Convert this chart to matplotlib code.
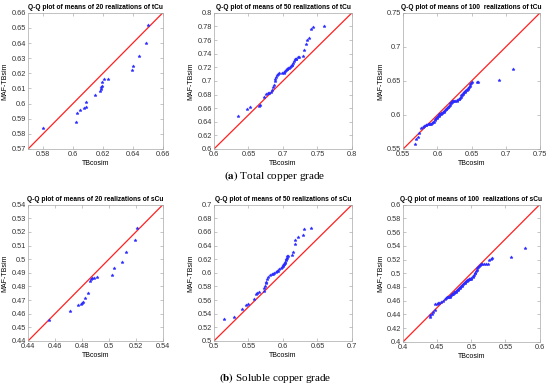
import matplotlib
matplotlib.use("Agg")
import matplotlib.pyplot as plt
from matplotlib.ticker import FuncFormatter

plt.rcParams.update({
    "font.family": ["Liberation Sans", "DejaVu Sans"],
    "font.size": 5.3,
    "mathtext.fontset": "stix",
    "xtick.direction": "in",
    "ytick.direction": "in",
    "xtick.major.size": 2,
    "ytick.major.size": 2,
    "xtick.major.width": 0.4,
    "ytick.major.width": 0.4,
    "xtick.top": True,
    "ytick.right": True,
    "xtick.color": "#9a9a9a",
    "ytick.color": "#9a9a9a",
    "xtick.labelcolor": "#333333",
    "ytick.labelcolor": "#333333",
    "axes.edgecolor": "#a8a8a8",
    "axes.linewidth": 0.5,
})

# ---- (a) total copper grade ----
t20_x = [0.580, 0.6018, 0.6029, 0.6044, 0.6073, 0.6084, 0.6089, 0.6144, 0.6178, 0.6184,
         0.6189, 0.6193, 0.6196, 0.6207, 0.6233, 0.6396, 0.6404, 0.6444, 0.6489, 0.6500]
t20_y = [0.5836, 0.5876, 0.5940, 0.5957, 0.5971, 0.5979, 0.6010, 0.6060, 0.6085, 0.6094,
         0.6107, 0.6116, 0.6142, 0.6160, 0.6162, 0.6222, 0.6248, 0.6316, 0.6398, 0.6520]

t50_x = [0.6343, 0.6474, 0.6526, 0.6657, 0.6667, 0.6729, 0.6750, 0.6778, 0.6802, 0.6826,
         0.6845, 0.6860, 0.6870, 0.6880, 0.6888, 0.6899, 0.6910, 0.6923, 0.6942, 0.6981,
         0.7010, 0.7020, 0.7029, 0.7039, 0.7053, 0.7065, 0.7077, 0.7090, 0.7101, 0.7116,
         0.7125, 0.7135, 0.7145, 0.7159, 0.7174, 0.7183, 0.7193, 0.7213, 0.7232, 0.7285,
         0.7304, 0.7333, 0.7348, 0.7372, 0.7401, 0.7439, 0.7590]
t50_y = [0.6485, 0.6584, 0.6622, 0.6632, 0.6647, 0.6760, 0.6809, 0.6828, 0.6828, 0.6843,
         0.6868, 0.6916, 0.6937, 0.7000, 0.7025, 0.7054, 0.7080, 0.7103, 0.7113, 0.7113,
         0.7122, 0.7135, 0.7143, 0.7162, 0.7172, 0.7180, 0.7187, 0.7194, 0.7201, 0.7221,
         0.7230, 0.7240, 0.7269, 0.7299, 0.7319, 0.7324, 0.7328, 0.7349, 0.7357, 0.7368,
         0.7456, 0.7544, 0.7593, 0.7628, 0.7760, 0.7784, 0.7813]

t100_x = [0.567, 0.569, 0.571, 0.573, 0.576, 0.579, 0.581, 0.583, 0.584, 0.586,
          0.588, 0.589, 0.591, 0.592, 0.594, 0.595, 0.596, 0.597, 0.598, 0.599,
          0.600, 0.601, 0.602, 0.603, 0.603, 0.604, 0.605, 0.606, 0.607, 0.608,
          0.609, 0.610, 0.611, 0.612, 0.613, 0.614, 0.615, 0.616, 0.617, 0.618,
          0.619, 0.620, 0.621, 0.622, 0.623, 0.624, 0.626, 0.628, 0.629, 0.631,
          0.632, 0.633, 0.634, 0.635, 0.636, 0.637, 0.638, 0.639, 0.640, 0.641,
          0.642, 0.643, 0.644, 0.645, 0.646, 0.647, 0.648, 0.649, 0.650, 0.658,
          0.660, 0.690, 0.710]
t100_y = [0.558, 0.564, 0.567, 0.573, 0.581, 0.582, 0.584, 0.585, 0.585, 0.586,
          0.586, 0.587, 0.587, 0.588, 0.589, 0.590, 0.592, 0.594, 0.595, 0.596,
          0.597, 0.598, 0.599, 0.600, 0.601, 0.601, 0.602, 0.603, 0.603, 0.604,
          0.605, 0.606, 0.607, 0.608, 0.609, 0.610, 0.611, 0.612, 0.613, 0.615,
          0.617, 0.618, 0.619, 0.620, 0.620, 0.620, 0.621, 0.621, 0.622, 0.623,
          0.624, 0.625, 0.627, 0.629, 0.630, 0.631, 0.632, 0.633, 0.634, 0.635,
          0.636, 0.637, 0.638, 0.640, 0.641, 0.643, 0.645, 0.647, 0.648, 0.648,
          0.649, 0.652, 0.667]

# ---- (b) soluble copper grade ----
s20_x = [0.4555, 0.4715, 0.4768, 0.4791, 0.4800, 0.4807, 0.4823, 0.4848, 0.4862, 0.4869,
         0.4875, 0.4891, 0.4910, 0.5025, 0.5040, 0.5095, 0.5130, 0.5190, 0.5210]
s20_y = [0.4554, 0.4623, 0.4662, 0.4672, 0.4677, 0.4684, 0.4714, 0.4751, 0.4843, 0.4853,
         0.4860, 0.4863, 0.4868, 0.4885, 0.4935, 0.4980, 0.5050, 0.5140, 0.5230]

s50_x = [0.5150, 0.5294, 0.5400, 0.5464, 0.5488, 0.5584, 0.5609, 0.5628, 0.5648, 0.5720,
         0.5729, 0.5739, 0.5749, 0.5758, 0.5773, 0.5787, 0.5816, 0.5845, 0.5860, 0.5874,
         0.5894, 0.5910, 0.5923, 0.5946, 0.5965, 0.5980, 0.5996, 0.6005, 0.6014, 0.6022,
         0.6029, 0.6036, 0.6043, 0.6050, 0.6058, 0.6063, 0.6068, 0.6135, 0.6140, 0.6174,
         0.6180, 0.6213, 0.6285, 0.6304, 0.6401]
s50_y = [0.5320, 0.5358, 0.5466, 0.5525, 0.5540, 0.5622, 0.5690, 0.5710, 0.5720, 0.5735,
         0.5775, 0.5810, 0.5850, 0.5872, 0.5907, 0.5937, 0.5970, 0.5985, 0.5990, 0.5995,
         0.6010, 0.6022, 0.6034, 0.6054, 0.6075, 0.6093, 0.6107, 0.6115, 0.6125, 0.6135,
         0.6150, 0.6166, 0.6185, 0.6201, 0.6220, 0.6240, 0.6250, 0.6260, 0.6310, 0.6426,
         0.6475, 0.6525, 0.6559, 0.6640, 0.6651]

s100_x = [0.439, 0.440, 0.442, 0.444, 0.446, 0.447, 0.449, 0.451, 0.453, 0.456,
          0.459, 0.461, 0.463, 0.465, 0.466, 0.467, 0.468, 0.469, 0.470, 0.471,
          0.472, 0.473, 0.474, 0.475, 0.476, 0.477, 0.478, 0.479, 0.480, 0.481,
          0.482, 0.483, 0.484, 0.485, 0.486, 0.487, 0.488, 0.489, 0.490, 0.491,
          0.492, 0.493, 0.494, 0.495, 0.496, 0.497, 0.498, 0.499, 0.500, 0.502,
          0.503, 0.504, 0.505, 0.506, 0.507, 0.508, 0.509, 0.510, 0.511, 0.512,
          0.514, 0.516, 0.519, 0.522, 0.525, 0.526, 0.529, 0.531, 0.558, 0.579]
s100_y = [0.4355, 0.439, 0.441, 0.444, 0.447, 0.4545, 0.455, 0.456, 0.457, 0.458,
          0.460, 0.463, 0.464, 0.465, 0.465, 0.466, 0.466, 0.467, 0.468, 0.469,
          0.469, 0.470, 0.471, 0.472, 0.473, 0.473, 0.474, 0.475, 0.476, 0.477,
          0.478, 0.479, 0.480, 0.481, 0.482, 0.483, 0.484, 0.485, 0.486, 0.487,
          0.488, 0.489, 0.490, 0.490, 0.491, 0.491, 0.492, 0.492, 0.493, 0.494,
          0.496, 0.498, 0.500, 0.501, 0.503, 0.505, 0.507, 0.509, 0.511, 0.512,
          0.513, 0.514, 0.514, 0.514, 0.514, 0.520, 0.521, 0.522, 0.5236, 0.537]

panels = [
    # rect, data x, data y, limits, ticks, title
    ([0.051, 0.615, 0.245, 0.352], t20_x, t20_y, (0.57, 0.66),
     [0.58, 0.60, 0.62, 0.64, 0.66], [0.57, 0.58, 0.59, 0.60, 0.61, 0.62, 0.63, 0.64, 0.65, 0.66],
     "Q-Q plot of means of 20 realizations of tCu"),
    ([0.389, 0.615, 0.251, 0.352], t50_x, t50_y, (0.6, 0.8),
     [0.6, 0.65, 0.7, 0.75, 0.8], [0.6, 0.62, 0.64, 0.66, 0.68, 0.7, 0.72, 0.74, 0.76, 0.78, 0.8],
     "Q-Q plot of means of 50 realizations of tCu"),
    ([0.733, 0.615, 0.249, 0.352], t100_x, t100_y, (0.55, 0.75),
     [0.55, 0.6, 0.65, 0.7, 0.75], [0.55, 0.6, 0.65, 0.7, 0.75],
     "Q-Q plot of means of 100  realizations of tCu"),
    ([0.051, 0.119, 0.245, 0.352], s20_x, s20_y, (0.44, 0.54),
     [0.44, 0.46, 0.48, 0.5, 0.52, 0.54], [0.44, 0.45, 0.46, 0.47, 0.48, 0.49, 0.5, 0.51, 0.52, 0.53, 0.54],
     "Q-Q plot of means of 20 realizations of sCu"),
    ([0.389, 0.119, 0.251, 0.352], s50_x, s50_y, (0.5, 0.7),
     [0.5, 0.55, 0.6, 0.65, 0.7], [0.5, 0.52, 0.54, 0.56, 0.58, 0.6, 0.62, 0.64, 0.66, 0.68, 0.7],
     "Q-Q plot of means of 50 realizations of sCu"),
    ([0.733, 0.117, 0.248, 0.354], s100_x, s100_y, (0.4, 0.6),
     [0.4, 0.45, 0.5, 0.55, 0.6], [0.4, 0.42, 0.44, 0.46, 0.48, 0.5, 0.52, 0.54, 0.56, 0.58, 0.6],
     "Q-Q plot of means of 100  realizations of sCu"),
]

fig = plt.figure(figsize=(5.5, 3.87), dpi=100)
fmt = FuncFormatter(lambda v, p: f"{v:g}")

for rect, xs, ys, lim, xt, yt, title in panels:
    ax = fig.add_axes(rect)
    ax.plot(lim, lim, color="#ff2020", linewidth=0.9, zorder=1)
    ax.plot(xs, ys, linestyle="none", marker="*", markersize=2.4,
            color="#2a2aff", markeredgewidth=0.3, zorder=2)
    ax.set_xlim(lim)
    ax.set_ylim(lim)
    ax.set_xticks(xt)
    ax.set_yticks(yt)
    ax.xaxis.set_major_formatter(fmt)
    ax.yaxis.set_major_formatter(fmt)
    ax.tick_params(pad=1.5)
    ax.set_title(title, fontsize=4.8, fontweight="bold", pad=2.5)
    ax.set_xlabel("TBcosim", fontsize=5, labelpad=1.5)
    ax.set_ylabel("MAF-TBsim", fontsize=5, labelpad=2)

cap_font = ["Liberation Serif", "DejaVu Serif"]
fig.text(0.5, 1 - 176 / 387, r"$\mathbf{(a)}$ Total copper grade", ha="center", va="center",
         fontsize=8, family=cap_font)
fig.text(0.5, 1 - 378 / 387, r"$\mathbf{(b)}$ Soluble copper grade", ha="center", va="center",
         fontsize=8, family=cap_font)

fig.savefig("out.png", dpi=100)
